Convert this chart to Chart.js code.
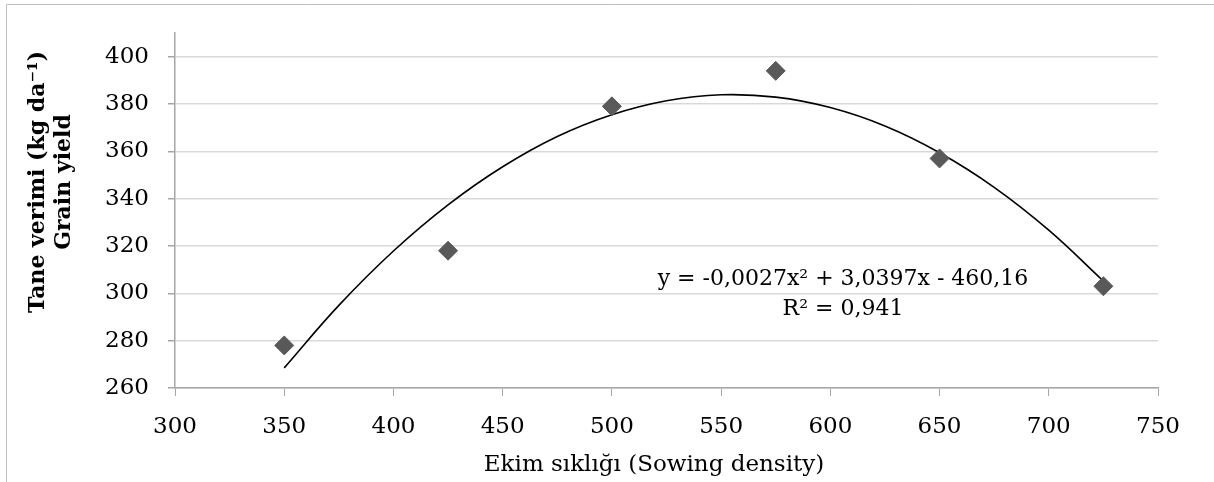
<!DOCTYPE html>
<html lang="tr">
<head>
  <meta charset="UTF-8">
  <title>Ekim sıklığı - Tane verimi</title>
  <script src="https://cdn.jsdelivr.net/npm/chart.js"></script>
  <style>
    html, body { margin: 0; padding: 0; background: #ffffff; }
    #wrap { width: 1214px; height: 482px; }
  </style>
</head>
<body>
  <div id="wrap"><canvas id="yieldChart" width="1214" height="482"></canvas></div>
  <script>
    // measured points (sowing density vs grain yield)
    const densities = [350, 425, 500, 575, 650, 725];
    const yields = [278, 318, 379, 394, 357, 303];

    // trend curve
    const trendX = [350, 375, 400, 425, 450, 475, 500, 525, 550, 575, 600, 625, 650, 675, 700, 725];
    const trendY = [268.5, 294.9, 317.9, 337.4, 353.5, 366.3, 375.5, 381.4, 383.9, 382.9, 378.5, 370.7, 359.4, 344.8, 326.7, 305.2];

    const yTicks = [260, 280, 300, 320, 340, 360, 380, 400];

    const serif = "'DejaVu Serif', 'Liberation Serif', serif";

    var annotate = {
      id: 'annotate',
      beforeDraw: function (chart) {
        var c = chart.ctx;
        c.save();
        c.strokeStyle = '#bfbfbf';
        c.lineWidth = 1;
        c.beginPath();
        c.moveTo(6.5, 482);
        c.lineTo(6.5, 4.5);
        c.lineTo(1214, 4.5);
        c.stroke();
        c.restore();
      },
      afterDraw: function (chart) {
        var c = chart.ctx;
        c.save();
        c.fillStyle = '#000000';
        c.textAlign = 'center';
        c.textBaseline = 'middle';

        // x axis title
        c.font = '23px ' + serif;
        c.fillText('Ekim sıklığı (Sowing density)', 654, 465);

        // equation label
        c.font = '22px ' + serif;
        c.fillText('y = -0,0027x² + 3,0397x - 460,16', 843, 279);
        c.fillText('R² = 0,941', 843, 309);

        // y axis title, two lines
        c.font = 'bold 22px ' + serif;
        c.translate(38, 182);
        c.rotate(-Math.PI / 2);
        c.fillText('Tane verimi (kg da⁻¹)', 0, 0);
        c.fillText('Grain yield', 0, 26);
        c.restore();
      }
    };

    var ctx = document.getElementById('yieldChart').getContext('2d');
    const chart = new Chart(ctx, {
      type: 'scatter',
      data: {
        datasets: [
          {
            label: 'Tane verimi',
            data: densities.map(function (d, i) { return { x: d, y: yields[i] }; }),
            pointStyle: 'rectRot',
            pointRadius: 9.5,
            pointHoverRadius: 9.5,
            backgroundColor: '#595959',
            borderColor: '#595959',
            borderWidth: 1,
            order: 0
          },
          {
            label: 'Trend',
            type: 'line',
            data: trendX.map(function (d, i) { return { x: d, y: trendY[i] }; }),
            showLine: true,
            borderColor: '#000000',
            borderWidth: 1.6,
            pointRadius: 0,
            tension: 0.4,
            fill: false,
            order: 1
          }
        ]
      },
      options: {
        responsive: false,
        animation: false,
        layout: { padding: { top: 33, right: 56, left: 0, bottom: 0 } },
        plugins: {
          legend: { display: false },
          tooltip: { enabled: false }
        },
        scales: {
          x: {
            type: 'linear',
            min: 300,
            max: 750,
            ticks: {
              stepSize: 50,
              color: '#000000',
              padding: 17,
              font: { family: serif, size: 23 }
            },
            grid: {
              drawOnChartArea: false,
              drawTicks: true,
              tickLength: 8,
              tickColor: '#a6a6a6'
            },
            border: { color: '#a6a6a6', width: 1.5 },
            afterFit: function (scale) { scale.height = 94; }
          },
          y: {
            type: 'linear',
            min: 260,
            max: 410,
            afterBuildTicks: function (scale) {
              scale.ticks = yTicks.map(function (v) { return { value: v }; });
            },
            ticks: {
              color: '#000000',
              padding: 19,
              font: { family: serif, size: 23 }
            },
            grid: {
              color: '#d9d9d9',
              lineWidth: 1.5,
              drawTicks: true,
              tickLength: 7,
              tickColor: '#a6a6a6'
            },
            border: { color: '#a6a6a6', width: 1.5 },
            afterFit: function (scale) { scale.width = 175; }
          }
        }
      },
      plugins: [annotate]
    });
  </script>
</body>
</html>
